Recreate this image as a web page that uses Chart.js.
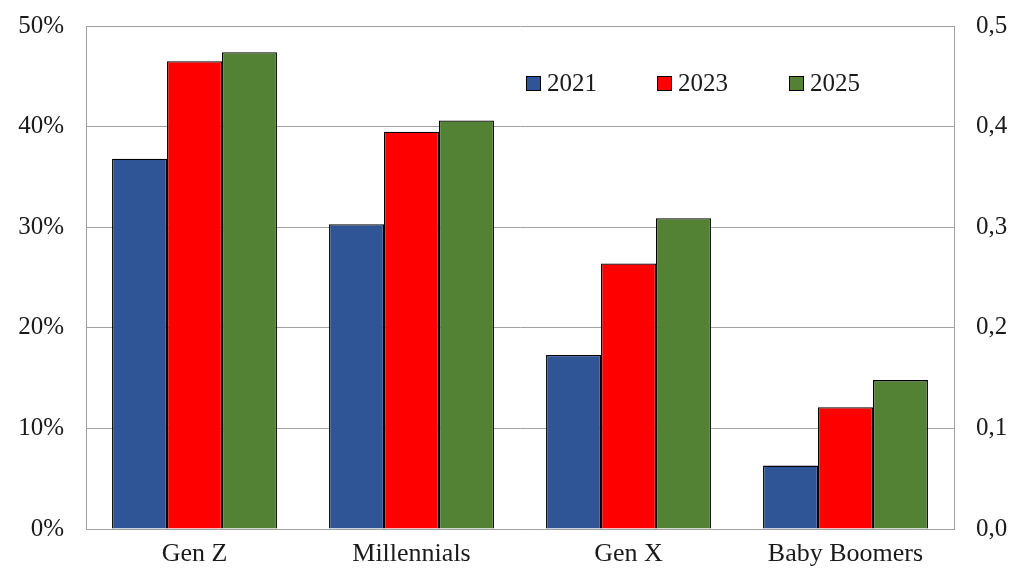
<!DOCTYPE html>
<html>
<head>
<meta charset="utf-8">
<script src="https://cdn.jsdelivr.net/npm/chart.js@4/dist/chart.umd.min.js"></script>
<style>
  html, body { margin: 0; padding: 0; background: #fff; }
  #wrap { width: 1016px; height: 568px; position: relative; }
</style>
</head>
<body>
<div id="wrap"><canvas id="c" width="1016" height="568"></canvas></div>
<script>
// Share of respondents by generation (percent)
const categories = ['Gen Z', 'Millennials', 'Gen X', 'Baby Boomers'];
const years = ['2021', '2023', '2025'];
const values2021 = [36.8, 30.3, 17.3, 6.3];
const values2023 = [46.5, 39.5, 26.4, 12.1];
const values2025 = [47.4, 40.6, 30.9, 14.8];
const leftTicks = ['0%', '10%', '20%', '30%', '40%', '50%'];
const rightTicks = ['0,0', '0,1', '0,2', '0,3', '0,4', '0,5'];

const colors = ['#2F5597', '#FF0000', '#548235'];
const FONT = "'Liberation Serif', 'Times New Roman', serif";
const TEXT = '#1a1a1a';
const GRID = '#a0a0a0';

// Legend drawn inside the plot area, in one row
const innerLegend = {
  id: 'innerLegend',
  afterDatasetsDraw(chart) {
    const ctx = chart.ctx;
    const xs = [526, 657, 789];
    const y = 83;
    ctx.save();
    ctx.font = '25px ' + FONT;
    ctx.textBaseline = 'middle';
    chart.data.datasets.forEach((ds, i) => {
      ctx.fillStyle = ds.backgroundColor;
      ctx.fillRect(xs[i] + 0.5, y - 6.5, 14, 14);
      ctx.strokeStyle = '#000';
      ctx.lineWidth = 1;
      ctx.strokeRect(xs[i] + 0.5, y - 6.5, 14, 14);
      ctx.fillStyle = TEXT;
      ctx.fillText(ds.label, xs[i] + 21, y + 1);
    });
    ctx.restore();
  }
};

// Value axes: fixed width, and no extra vertical room reserved for tick labels
function fitValueAxis(width) {
  return function (scale) {
    scale.width = width;
    scale.paddingTop = 0;
    scale.paddingBottom = 0;
  };
}

new Chart(document.getElementById('c'), {
  type: 'bar',
  data: {
    labels: categories,
    datasets: [values2021, values2023, values2025].map((vals, i) => ({
      label: years[i],
      data: vals,
      backgroundColor: colors[i],
      borderColor: '#000',
      borderWidth: 1.3,
      yAxisID: 'y',
      categoryPercentage: 0.76,
      barPercentage: 1.0
    }))
  },
  options: {
    responsive: false,
    animation: false,
    devicePixelRatio: 1,
    layout: { padding: { top: 26, bottom: 0, left: 0, right: 0 } },
    plugins: {
      legend: { display: false },
      tooltip: { enabled: false }
    },
    scales: {
      x: {
        grid: { display: false },
        border: { display: true, color: GRID, width: 1 },
        ticks: { color: TEXT, font: { family: FONT, size: 26 }, padding: 2 },
        afterFit(scale) { scale.height = 39; }
      },
      y: {
        position: 'left',
        min: 0, max: 50,
        ticks: {
          stepSize: 10,
          color: TEXT,
          font: { family: FONT, size: 25 },
          padding: 22,
          callback: (v, i) => leftTicks[i]
        },
        grid: { color: GRID, lineWidth: 1, drawTicks: false },
        border: { display: true, color: GRID, width: 1 },
        afterFit: fitValueAxis(86)
      },
      y1: {
        position: 'right',
        min: 0, max: 0.5,
        ticks: {
          stepSize: 0.1,
          color: TEXT,
          font: { family: FONT, size: 25 },
          padding: 22,
          callback: (v, i) => rightTicks[i]
        },
        grid: { display: false, drawTicks: false },
        border: { display: true, color: GRID, width: 1 },
        afterFit: fitValueAxis(62)
      }
    }
  },
  plugins: [innerLegend]
});
</script>
</body>
</html>
